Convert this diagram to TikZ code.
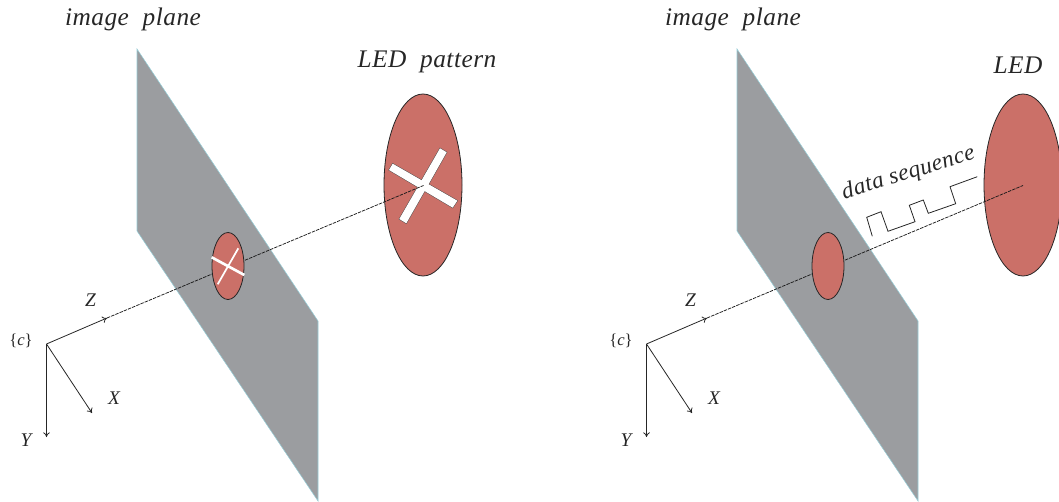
\documentclass[tikz,border=0pt]{standalone}
\usepackage{fontspec}
\usetikzlibrary{arrows.meta}
\setmainfont{Liberation Serif}
\newfontfamily\spacedfont[LetterSpace=2]{Liberation Serif}
\definecolor{planegray}{RGB}{155,157,160}
\definecolor{planeedge}{RGB}{150,205,215}
\definecolor{ledred}{RGB}{203,112,104}
\tikzset{
    plane/.style={fill=planegray, draw=planeedge, thin},
    led/.style={fill=ledred, draw=black!85, line width=0.6pt},
    axis/.style={-{To[length=3.5pt,width=5pt]}, black!85, line width=0.6pt},
    ray/.style={black!90, line width=0.55pt, dash pattern=on 2.6pt off 0.8pt},
    slot/.style={draw=black!70, line width=0.7pt},
    title/.style={font=\spacedfont\itshape\fontsize{19}{22}\selectfont, black!85, inner sep=0pt},
    axlabel/.style={font=\itshape\fontsize{14.5}{17}\selectfont, black!85, inner sep=0pt}
}
\begin{document}
\begin{tikzpicture}[x=0.75pt, y=-0.75pt]
    \useasboundingbox (0,0) rectangle (1059,502);
    \clip (0,0) rectangle (1059,502);
    % plane, camera frame, shared labels
    \foreach \dx/\n in {0/a,600/b} {
        \fill[plane] (137+\dx,49) -- (318+\dx,321) -- (318+\dx,501) -- (137+\dx,231) -- cycle;
        \coordinate (c\n) at (46.5+\dx,344);
        \coordinate (z\n) at (107+\dx,318);
        \coordinate (x\n) at (92+\dx,413);
        \coordinate (y\n) at (46.5+\dx,437);
        \draw[axis] (c\n) -- (z\n);
        \draw[axis] (c\n) -- (x\n);
        \draw[axis] (c\n) -- (y\n);
        \node[axlabel] (zlabel\n) at (90.5+\dx,300) {Z};
        \node[axlabel] (xlabel\n) at (114+\dx,398) {X};
        \node[axlabel] (ylabel\n) at (26+\dx,440) {Y};
        \node[axlabel, font=\fontsize{12.5}{15}\selectfont] (clabel\n) at (21+\dx,341) {\{\textit{c}\}};
        \node[title] (plane\n) at (133+\dx,19) {image\ \ plane};
    }
    % left: pattern
    \draw[led] (423,185) ellipse (39 and 91);
    \draw[slot] (392.7,163.7) -- (457.3,200.7) -- (452.7,207.7) -- (389,170) -- cycle;
    \draw[slot] (440,148.3) -- (446.7,152.3) -- (406.3,223.3) -- (399.3,219) -- cycle;
    \fill[white] (392.7,163.7) -- (457.3,200.7) -- (452.7,207.7) -- (389,170) -- cycle;
    \fill[white] (440,148.3) -- (446.7,152.3) -- (406.3,223.3) -- (399.3,219) -- cycle;
    \draw[ray] (za) -- (423.5,185.5);
    \draw[led] (228,266) ellipse (16 and 33.5);
    \draw[white, line width=2pt] (211.7,257.3) -- (244.3,275);
    \draw[white, line width=1.3pt] (238.3,248.3) -- (217.7,284.3);
    \node[title] (ledpattern) at (427,62) {LED\ \ pattern};
    % right: data link
    \draw[led] (1023,185) ellipse (39 and 91);
    \draw[ray] (zb) -- (1023,185.5);
    \draw[led] (828,266) ellipse (16 and 33.5);
    \draw[black!85, line width=0.6pt] (872.3,236.3) -- (866.7,217.3) -- (881,211.7) -- (888,231.3) -- (915,221.7) -- (909.3,205.3) -- (923.3,200) -- (928.3,213.3) -- (955.7,203.7) -- (950,186.7) -- (977.3,176.7);
    \node[title] (ledlabel) at (1018,65) {LED};
    \node[title, font=\spacedfont\itshape\fontsize{17.5}{20}\selectfont, rotate=17] (datalabel) at (908.5,173.5) {data\ sequence};
\end{tikzpicture}
\end{document}
